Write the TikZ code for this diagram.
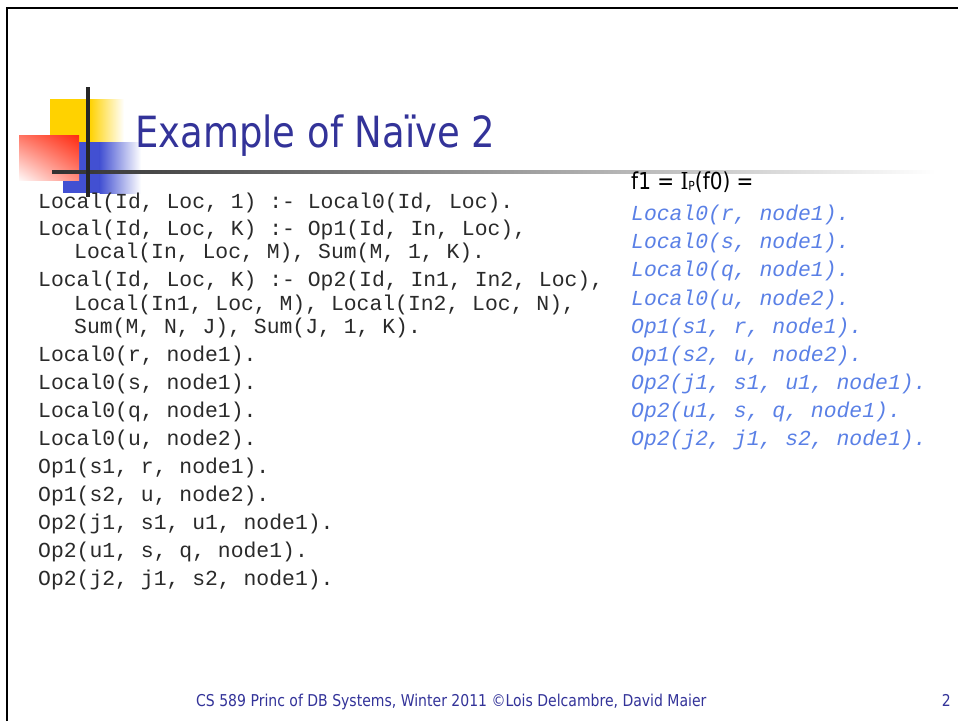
\documentclass[tikz,border=0pt]{standalone}
\usepackage{fontspec}
\usetikzlibrary{shadings}
\newfontfamily\slidefont{DejaVu Sans}[FakeStretch=0.86]
\newfontfamily\slideserif{DejaVu Serif}[FakeStretch=0.86]
\newfontfamily\codefont{Liberation Mono}
\definecolor{titleblue}{HTML}{333399}
\definecolor{factblue}{HTML}{5A80E6}
\definecolor{codeink}{HTML}{2A2A2A}
\definecolor{logoyellow}{HTML}{FFD200}
\definecolor{logoblue}{HTML}{4250D2}
\definecolor{logored}{HTML}{FF2A10}
\definecolor{barink}{HTML}{262626}
\tikzset{
  codeline/.style={anchor=base west, inner sep=0pt, text=codeink,
    font=\codefont\fontsize{21.4}{24}\selectfont},
  factline/.style={anchor=base west, inner sep=0pt, text=factblue,
    font=\codefont\itshape\fontsize{21.4}{24}\selectfont},
  slidetitle/.style={anchor=base west, inner sep=0pt, text=titleblue,
    font=\slidefont\fontsize{43}{50}\selectfont},
  footer/.style={inner sep=0pt, text=titleblue,
    font=\slidefont\fontsize{16.3}{19}\selectfont},
  heading/.style={anchor=base west, inner sep=0pt, text=black,
    font=\slidefont\fontsize{23.3}{27}\selectfont}
}
\begin{document}
\begin{tikzpicture}[x=1pt,y=1pt]
\useasboundingbox (0,0) rectangle (958,-721);
\fill[white] (0,0) rectangle (958,-721);

% slide frame
\draw[line width=2.6pt] (7,-721) -- (7,-8) -- (958,-8);

% logo: coloured squares with fades
\fill[logoyellow] (50,-99) rectangle (90,-142);
\shade[left color=logoyellow, right color=white] (89.5,-99) rectangle (124,-142);
\fill[logoblue] (63,-142) rectangle (100,-193);
\shade[left color=logoblue, right color=white] (99.5,-142) rectangle (141,-193);
\shade[upper right=logored, upper left=logored!65!white,
       lower right=logored!55!white, lower left=logored!3!white]
  (19,-135) rectangle (79,-180);
% logo cross bars and the title rule
\shade[left color=barink!95!white, right color=white] (52,-170) rectangle (936,-173.5);
\fill[barink] (86,-87) rectangle (90,-197);

% title
\node[slidetitle] (title) at (135,-147) {Example of Naïve 2};

% program rules and base facts
\node[codeline] (r1)  at (38,-208)   {Local(Id, Loc, 1) :- Local0(Id, Loc).};
\node[codeline] (r2)  at (38,-235)   {Local(Id, Loc, K) :- Op1(Id, In, Loc),};
\node[codeline] (r2b) at (74,-258)   {Local(In, Loc, M), Sum(M, 1, K).};
\node[codeline] (r3)  at (38,-286)   {Local(Id, Loc, K) :- Op2(Id, In1, In2, Loc),};
\node[codeline] (r3b) at (74,-310)   {Local(In1, Loc, M), Local(In2, Loc, N),};
\node[codeline] (r3c) at (74,-333)   {Sum(M, N, J), Sum(J, 1, K).};
\node[codeline] (b1)  at (38,-361)   {Local0(r, node1).};
\node[codeline] (b2)  at (38,-389)   {Local0(s, node1).};
\node[codeline] (b3)  at (38,-417)   {Local0(q, node1).};
\node[codeline] (b4)  at (38,-445)   {Local0(u, node2).};
\node[codeline] (b5)  at (38,-473)   {Op1(s1, r, node1).};
\node[codeline] (b6)  at (38,-501)   {Op1(s2, u, node2).};
\node[codeline] (b7)  at (38,-529)   {Op2(j1, s1, u1, node1).};
\node[codeline] (b8)  at (38,-557)   {Op2(u1, s, q, node1).};
\node[codeline] (b9)  at (38,-585)   {Op2(j2, j1, s2, node1).};

% first iteration result
\node[heading] (f1) at (631,-189.5)
  {f1 = {\slideserif I}\raisebox{-0.08ex}{\fontsize{12.5}{13}\selectfont P}(f0) =};
\node[factline] (g1) at (631,-220)   {Local0(r, node1).};
\node[factline] (g2) at (631,-248)   {Local0(s, node1).};
\node[factline] (g3) at (631,-276.5) {Local0(q, node1).};
\node[factline] (g4) at (631,-305)   {Local0(u, node2).};
\node[factline] (g5) at (631,-333)   {Op1(s1, r, node1).};
\node[factline] (g6) at (631,-361)   {Op1(s2, u, node2).};
\node[factline] (g7) at (631,-389)   {Op2(j1, s1, u1, node1).};
\node[factline] (g8) at (631,-417)   {Op2(u1, s, q, node1).};
\node[factline] (g9) at (631,-445)   {Op2(j2, j1, s2, node1).};

% footer
\node[footer, anchor=base west] (credit) at (196,-706)
  {CS 589 Princ of DB Systems, Winter 2011 ©Lois Delcambre, David Maier};
\node[footer, anchor=base east] (page) at (951,-706) {2};
\end{tikzpicture}
\end{document}
